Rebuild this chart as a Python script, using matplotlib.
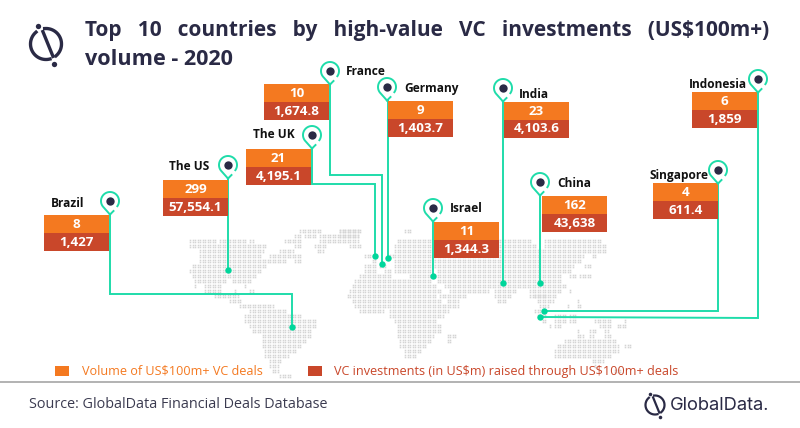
import numpy as np
import matplotlib
matplotlib.use('Agg')
import matplotlib.pyplot as plt
from matplotlib.patches import Rectangle

plt.rcParams['font.family'] = ['Open Sans', 'DejaVu Sans']
plt.rcParams['text.parse_math'] = False

# chart values
countries = ['Brazil', 'The US', 'The UK', 'France', 'Germany', 'Israel', 'India', 'China', 'Singapore', 'Indonesia']
deal_volume = ['8', '299', '21', '10', '9', '11', '23', '162', '4', '6']
deal_value = ['1,427', '57,554.1', '4,195.1', '1,674.8', '1,403.7', '1,344.3', '4,103.6', '43,638', '611.4', '1,859']

# layout, all in reference pixels
box_left = [44, 163, 246, 264, 388, 434, 504, 542, 653, 692]
box_top = [215, 180, 149, 84, 101, 222, 102, 196, 183, 92]
pin_x = [110, 228, 312, 330, 387, 433, 503, 540, 718, 758]
pin_y = [201, 165, 135, 71, 87, 208, 88, 182, 170, 79]
label_x = [51, 169, 253, 346, 404, 450, 519, 557, 649, 689]
label_y = [203, 167, 135, 71, 88, 208, 94, 183, 175, 84]
routes = [
    [(110, 214), (110, 294), (292, 294), (292, 327)],
    [(228, 178), (228, 270)],
    [(312, 148), (312, 184), (375, 184), (375, 256)],
    [(330, 84), (330, 175), (382, 175), (382, 264)],
    [(388, 100), (388, 258)],
    [(433, 222), (433, 276)],
    [(503, 101), (503, 283)],
    [(540, 196), (540, 283)],
    [(718, 183), (718, 311), (544, 311)],
    [(758, 93), (758, 318), (540, 317)],
]

# dotted world map: y of a row pair and its x spans
map_rows = [
    (231, [(300, 322), (340, 360), (340, 358), (404, 410)]),
    (236, [(293, 300), (305, 316), (318, 358), (340, 358)]),
    (241, [(190, 215), (220, 245), (248, 253), (283, 300), (318, 358), (397, 530), (545, 600)]),
    (246, [(190, 267), (293, 300), (315, 327), (350, 360), (395, 535), (545, 605)]),
    (251, [(198, 263), (278, 293), (317, 323), (393, 600), (602, 607)]),
    (256, [(198, 260), (270, 300), (363, 370), (390, 583), (592, 597)]),
    (261, [(198, 268), (270, 287), (293, 300), (372, 377), (395, 580)]),
    (266, [(192, 267), (363, 377), (380, 386), (395, 573), (583, 590)]),
    (271, [(190, 262), (363, 377), (383, 390), (395, 430), (436, 570)]),
    (276, [(192, 257), (360, 390), (410, 430), (435, 560), (570, 575), (580, 590)]),
    (281, [(195, 227), (232, 250), (355, 430), (437, 562)]),
    (286, [(195, 197), (203, 220), (245, 247), (351, 435), (443, 565)]),
    (291, [(205, 220), (233, 235), (248, 253), (350, 440), (450, 488), (493, 515), (528, 560), (570, 572)]),
    (296, [(213, 238), (347, 437), (440, 467), (493, 510), (528, 557), (533, 547)]),
    (301, [(230, 240), (352, 440), (447, 458), (497, 507), (537, 553), (577, 579)]),
    (306, [(240, 273), (353, 458), (538, 548), (566, 568), (577, 582)]),
    (311, [(250, 287), (358, 383), (390, 448), (535, 547)]),
    (316, [(245, 302), (390, 443), (537, 547), (555, 565), (570, 575)]),
    (321, [(245, 317), (393, 437), (542, 547), (555, 565), (570, 575), (593, 612), (623, 625)]),
    (326, [(248, 317), (397, 440), (548, 550), (555, 562), (598, 612), (617, 627)]),
    (331, [(252, 310), (397, 440), (577, 579), (590, 597), (605, 608)]),
    (336, [(262, 310), (397, 433), (447, 455), (577, 583), (588, 593), (605, 612)]),
    (341, [(262, 305), (400, 430), (447, 452), (565, 615)]),
    (346, [(262, 300), (400, 427), (557, 618), (625, 630)]),
    (351, [(265, 295), (403, 420), (555, 618)]),
    (356, [(265, 288), (403, 417), (555, 565), (567, 610)]),
    (361, [(268, 282), (592, 603)]),
    (366, [(268, 278), (593, 597)]),
    (371, [(272, 278), (615, 620)]),
    (376, [(280, 290)]),
]

orange = '#f47920'
red = '#c9472a'
teal = '#1fdcaa'
navy = '#2a2a45'
box_w = 65
row_h = 18

fig = plt.figure(figsize=(8, 4.28), dpi=100)
ax = fig.add_axes([0, 0, 1, 1])
ax.set_xlim(0, 800)
ax.set_ylim(428, 0)
ax.axis('off')

# world map
map_x, map_y = [], []
for y, spans in map_rows:
    for x0, x1 in spans:
        xs = np.arange(np.ceil(x0 / 2.5), np.floor(x1 / 2.5) + 1) * 2.5
        for dy in (-1.25, 1.25):
            map_x.extend(xs)
            map_y.extend([y + dy] * len(xs))
dots = ax.scatter(map_x, map_y, s=1.3, marker='s', color='#d4d4d4', linewidths=0, zorder=1)
dots.set_snap(False)

# connector lines with the end dots
for pts in routes:
    xs = [p[0] for p in pts]
    ys = [p[1] for p in pts]
    ax.plot(xs, ys, color=teal, lw=1.4, zorder=2, solid_joinstyle='miter')
    ax.plot(xs[-1], ys[-1], 'o', color='#00d69b', ms=4.6, mew=0, zorder=3)

# boxes
for i, name in enumerate(countries):
    x, y = box_left[i], box_top[i]
    ax.add_patch(Rectangle((x, y), box_w, row_h, fc=orange, ec='none', zorder=4))
    ax.add_patch(Rectangle((x, y + row_h), box_w, row_h, fc=red, ec='none', zorder=4))
    ax.text(x + box_w / 2, y + row_h / 2, deal_volume[i], color='white', fontsize=9.6,
            fontweight='bold', ha='center', va='center', zorder=5)
    ax.text(x + box_w / 2, y + row_h * 1.5, deal_value[i], color='white', fontsize=9.6,
            fontweight='bold', ha='center', va='center', zorder=5)
    ax.text(label_x[i], label_y[i], name, color='#111111', fontsize=8.6, fontweight='bold',
            ha='left', va='center', zorder=5)


def draw_pin(cx, cy, r=9):
    t = np.radians(np.arange(-35, 226, 5))
    xs = cx + r * np.cos(t)
    ys = cy - r * np.sin(t)
    tip = cy + r + 4.5
    ax.plot(list(xs) + [cx], list(ys) + [tip], color=teal, lw=1.4, zorder=6)
    ax.plot([cx, cx + 3.5], [tip, tip - 3.5], color=teal, lw=1.4, zorder=6)
    ax.plot(cx, cy, 'o', color=navy, ms=6, mew=0, zorder=6)


for px, py in zip(pin_x, pin_y):
    draw_pin(px, py)


def draw_logo(cx, cy, r, lw):
    for a0, a1 in [(-50, 95), (130, 285)]:
        t = np.radians(np.arange(a0, a1 + 1, 5))
        ax.plot(cx + r * np.cos(t), cy - r * np.sin(t), color=navy, lw=lw, zorder=6)
    ax.plot([cx - 0.2 * r, cx + 0.45 * r], [cy - 0.8 * r, cy + 0.8 * r], color=navy, lw=lw, zorder=6)
    ax.plot([cx - 0.52 * r, cx + 0.52 * r], [cy - 1.15 * r, cy + 1.3 * r], 'o', color=navy,
            ms=lw * 1.6, mew=0, zorder=6)


draw_logo(46, 44, 15.5, 2.4)
draw_logo(655, 405, 9.5, 1.6)

# title
ax.text(85, 30, 'Top   10   countries   by   high-value   VC   investments   (US$100m+)',
        color=navy, fontsize=15, fontweight='bold', ha='left', va='center')
ax.text(85, 59, 'volume - 2020', color=navy, fontsize=15.6, fontweight='bold', ha='left', va='center')

# legend
ax.add_patch(Rectangle((55, 366), 14, 10, fc=orange, ec='none'))
ax.text(82, 371, 'Volume of US$100m+ VC deals', color=orange, fontsize=9.1, ha='left', va='center')
ax.add_patch(Rectangle((308, 366), 14, 10, fc=red, ec='none'))
ax.text(334, 371, 'VC investments (in US$m) raised through US$100m+ deals', color=red, fontsize=9.13,
        ha='left', va='center')

# footer
ax.plot([0, 800], [382, 382], color='#a6a6a6', lw=1.2)
ax.text(29, 405, 'Source: GlobalData Financial Deals Database', color='#3b3b50', fontsize=10.35,
        ha='left', va='center')
ax.text(670, 405, 'GlobalData.', color=navy, fontsize=13.2, family=['Inter', 'DejaVu Sans'],
        ha='left', va='center')

fig.savefig('out.png', dpi=100)
